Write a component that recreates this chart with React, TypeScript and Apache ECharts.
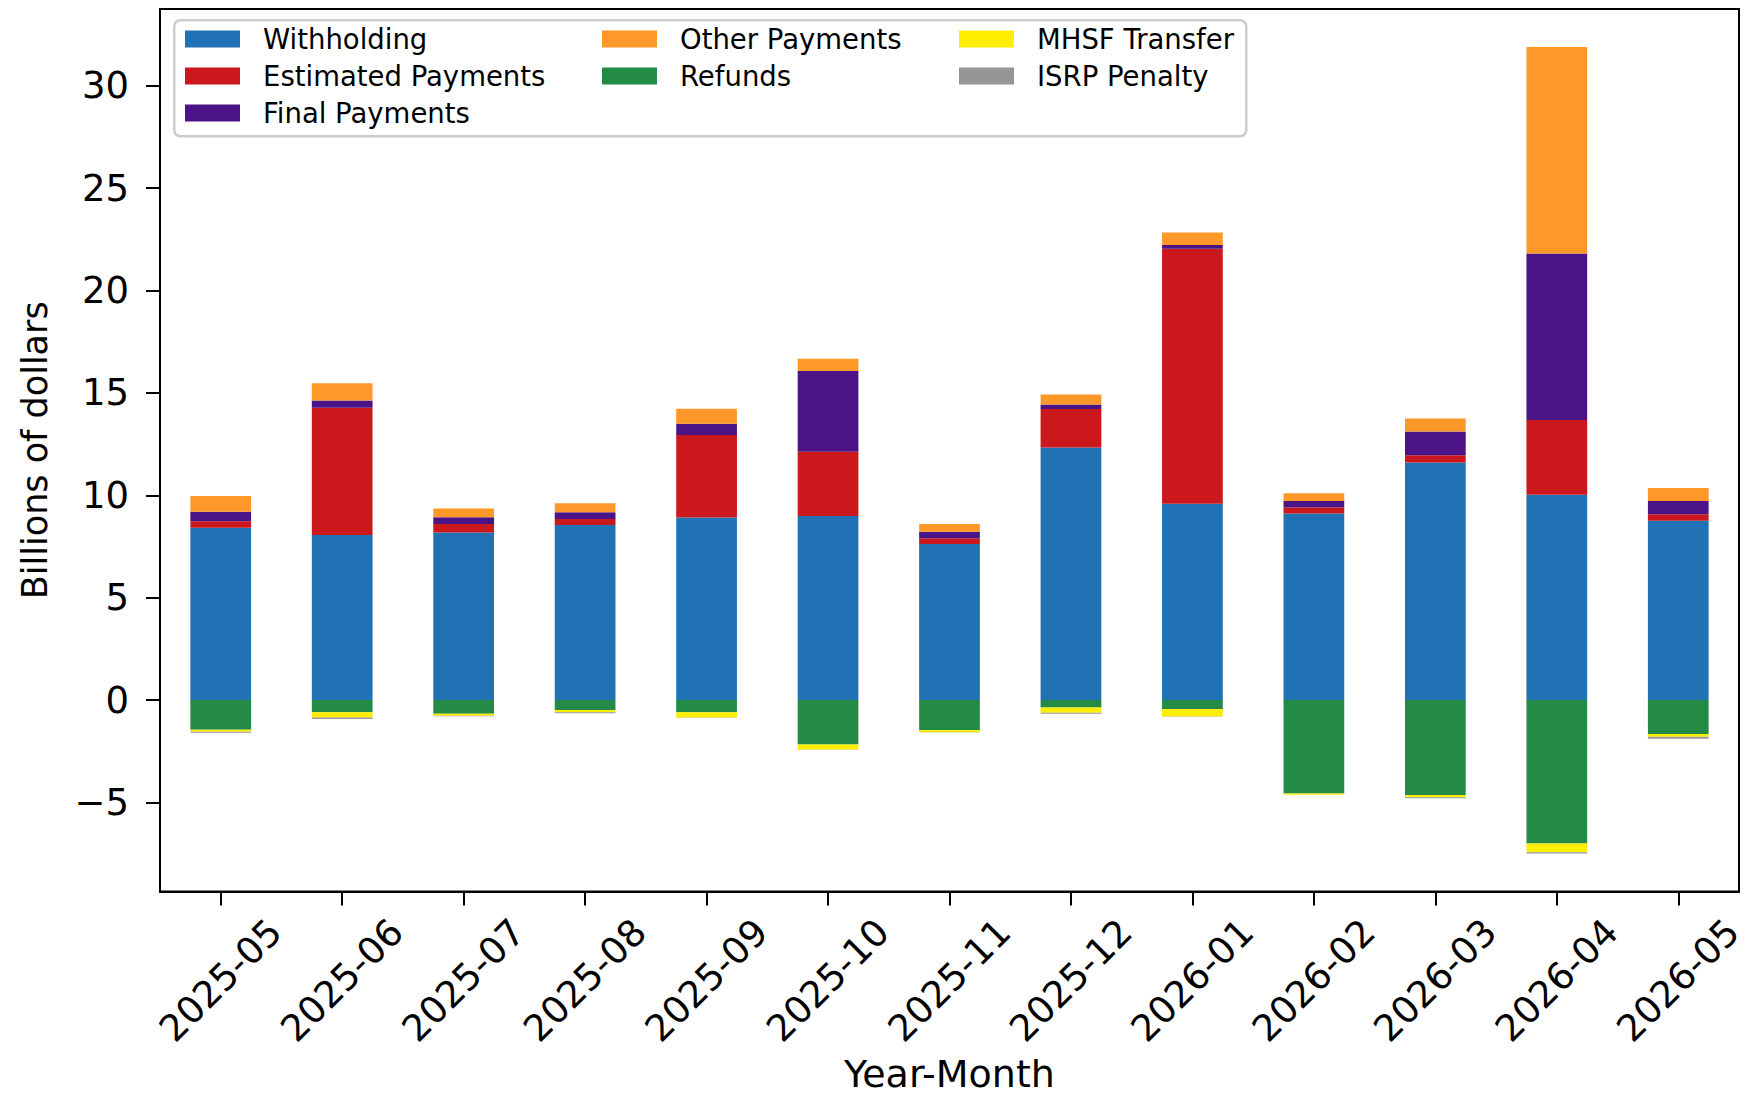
import React, { useEffect, useRef } from 'react';
import * as echarts from 'echarts';

const categories = ['2025-05', '2025-06', '2025-07', '2025-08', '2025-09', '2025-10', '2025-11', '2025-12', '2026-01', '2026-02', '2026-03', '2026-04', '2026-05'];

const withholding = [8.42, 8.06, 8.18, 8.55, 8.91, 8.99, 7.62, 12.34, 9.59, 9.11, 11.60, 10.03, 8.76];
const estimatedPayments = [0.31, 6.22, 0.42, 0.29, 4.04, 3.14, 0.28, 1.88, 12.45, 0.29, 0.35, 3.65, 0.31];
const finalPayments = [0.47, 0.35, 0.33, 0.33, 0.55, 3.94, 0.32, 0.21, 0.19, 0.32, 1.17, 8.13, 0.65];
const otherPayments = [0.77, 0.84, 0.43, 0.44, 0.73, 0.60, 0.38, 0.49, 0.61, 0.38, 0.63, 10.08, 0.64];
const refunds = [-1.45, -0.60, -0.67, -0.49, -0.60, -2.17, -1.47, -0.36, -0.44, -4.56, -4.64, -7.00, -1.66];
const mhsfTransfer = [-0.10, -0.25, -0.10, -0.10, -0.25, -0.24, -0.10, -0.26, -0.36, -0.06, -0.11, -0.43, -0.13];
const isrpPenalty = [-0.05, -0.07, -0.02, -0.05, -0.02, -0.02, -0.02, -0.05, -0.02, -0.01, -0.05, -0.06, -0.10];

const yTicks = [-5, 0, 5, 10, 15, 20, 25, 30];

const seriesDefs = [
  { name: 'Withholding', data: withholding, color: '#2171b5' },
  { name: 'Estimated Payments', data: estimatedPayments, color: '#cb181d' },
  { name: 'Final Payments', data: finalPayments, color: '#4a1486' },
  { name: 'Other Payments', data: otherPayments, color: '#fe9929' },
  { name: 'Refunds', data: refunds, color: '#238b45' },
  { name: 'MHSF Transfer', data: mhsfTransfer, color: '#ffee00' },
  { name: 'ISRP Penalty', data: isrpPenalty, color: '#969696' },
];

const legendColumns = [
  ['Withholding', 'Estimated Payments', 'Final Payments'],
  ['Other Payments', 'Refunds'],
  ['MHSF Transfer', 'ISRP Penalty'],
];

const FONT = 'DejaVu Sans';

export default function App() {
  const ref = useRef<HTMLDivElement>(null);
  useEffect(() => {
    const chart = echarts.init(ref.current as HTMLDivElement, null, { renderer: 'svg' });
    const legendLefts = [185, 602, 959];
    const option: any = {
      animation: false,
      backgroundColor: '#ffffff',
      grid: {
        left: 160,
        right: 15,
        top: 9,
        bottom: 204.5,
        show: true,
        borderColor: '#000',
        borderWidth: 2,
        backgroundColor: 'transparent',
        containLabel: false,
        outerBoundsMode: 'none',
      },
      legend: legendColumns.map((col, i) => ({
        data: col,
        orient: 'vertical',
        left: legendLefts[i],
        top: 24,
        padding: 0,
        itemGap: 7,
        itemWidth: 55,
        itemHeight: 17,
        icon: 'rect',
        selectedMode: false,
        textStyle: {
          fontFamily: FONT,
          fontSize: 27.5,
          color: '#000',
          lineHeight: 30,
          padding: [0, 0, 0, 18],
        },
      })),
      graphic: [
        {
          type: 'rect',
          left: 173,
          top: 19,
          z: 3,
          shape: { width: 1072, height: 116, r: 6 },
          style: { fill: 'rgba(255,255,255,0.85)', stroke: '#cccccc', lineWidth: 2.5 },
        },
      ],
      xAxis: {
        type: 'category',
        data: categories,
        axisLine: { show: true, onZero: false, lineStyle: { color: '#000', width: 2 } },
        axisTick: { show: true, alignWithLabel: true, length: 14, lineStyle: { color: '#000', width: 2 } },
        axisLabel: {
          interval: 0,
          rotate: 45,
          align: 'center',
          verticalAlign: 'middle',
          margin: 89,
          fontSize: 37,
          fontFamily: FONT,
          color: '#000',
        },
        splitLine: { show: false },
        name: 'Year-Month',
        nameLocation: 'middle',
        nameGap: 164,
        nameTextStyle: { fontSize: 38, fontFamily: FONT, color: '#000', lineHeight: 36 },
      },
      yAxis: {
        type: 'value',
        min: -9.35,
        max: 33.75,
        splitLine: { show: false },
        axisLine: { show: true, lineStyle: { color: '#000', width: 2 } },
        axisTick: { show: true, length: 14, lineStyle: { color: '#000', width: 2 }, customValues: yTicks },
        axisLabel: {
          customValues: yTicks,
          fontSize: 37,
          fontFamily: FONT,
          color: '#000',
          margin: 31,
          formatter: (v: number) => (v < 0 ? '\u2212' + Math.abs(v) : String(v)),
        },
        name: 'Billions of dollars',
        nameLocation: 'middle',
        nameGap: 108,
        nameTextStyle: { fontSize: 35, fontFamily: FONT, color: '#000', lineHeight: 35 },
      },
      series: seriesDefs.map((s) => ({
        name: s.name,
        type: 'bar',
        stack: 'total',
        barWidth: '50%',
        data: s.data,
        itemStyle: { color: s.color },
        emphasis: { disabled: true },
      })),
    };
    chart.setOption(option);
    return () => chart.dispose();
  }, []);
  return (
    <div
      ref={ref}
      style={{ position: 'fixed', left: 0, top: 0, width: 1754, height: 1096, background: '#fff' }}
    />
  );
}
